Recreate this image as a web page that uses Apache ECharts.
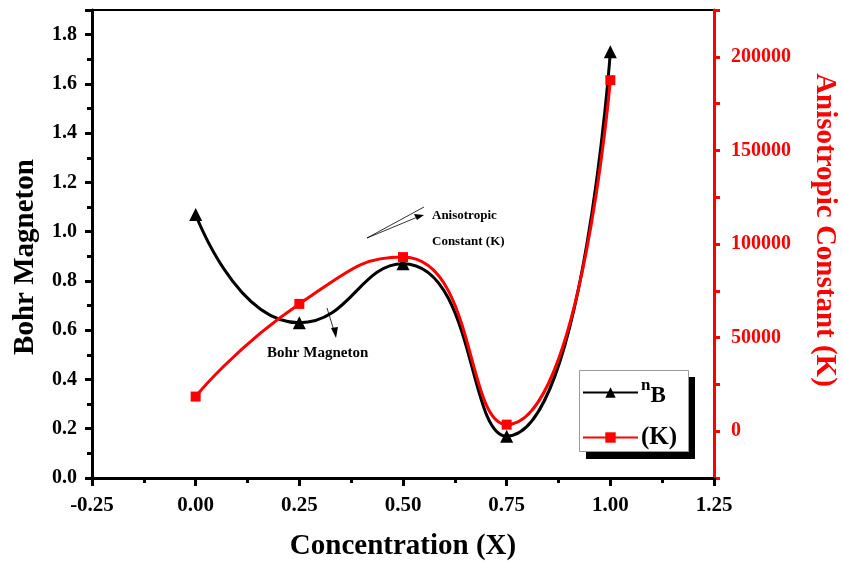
<!DOCTYPE html>
<html>
<head>
<meta charset="utf-8">
<script src="https://cdn.jsdelivr.net/npm/echarts@6/dist/echarts.min.js"></script>
<style>
  html, body { margin: 0; padding: 0; background: #fff; }
  #chart { width: 843px; height: 568px; }
</style>
</head>
<body>
<div id="chart"></div>
<script>
// data
const concentration = [0, 0.25, 0.5, 0.75, 1.0]
const bohrMagneton = [1.07, 0.63, 0.87, 0.17, 1.73]
const anisotropicK = [18500, 68000, 93000, 3500, 187500]

const serif = "'Liberation Serif', 'Times New Roman', serif"
const RED = '#ff0000'

const chart = echarts.init(document.getElementById('chart'))

chart.setOption({
  backgroundColor: '#fff',
  animation: false,
  grid: {
    left: 92, right: 129, top: 10, bottom: 90,
    outerBoundsMode: 'none',
    show: true, borderColor: '#000', borderWidth: 2
  },
  legend: {
    orient: 'vertical',
    left: 580, top: 377,
    padding: [0, 0, 0, 2],
    itemWidth: 55, itemHeight: 13, itemGap: 17,
    data: ['nB', '(K)'],
    formatter: (name) => name === 'nB' ? '{n|n}{s|B}' : '{k|(K)}',
    textStyle: {
      fontFamily: serif, fontWeight: 'bold', color: '#000', padding: [0, 0, 0, -2],
      rich: {
        n: { fontFamily: serif, fontWeight: 'bold', fontSize: 17, color: '#000', verticalAlign: 'bottom', padding: [0, 0, 14, 0] },
        s: { fontFamily: serif, fontWeight: 'bold', fontSize: 23, color: '#000', verticalAlign: 'bottom' },
        k: { fontFamily: serif, fontWeight: 'bold', fontSize: 25, color: '#000' }
      }
    }
  },
  xAxis: {
    type: 'value',
    min: -0.25, max: 1.25, interval: 0.25,
    name: 'Concentration (X)',
    nameLocation: 'middle', nameGap: 54,
    nameTextStyle: { fontFamily: serif, fontWeight: 'bold', fontSize: 29, color: '#000' },
    axisLine: { onZero: false, lineStyle: { color: '#000', width: 3 } },
    axisTick: { inside: false, length: 8, lineStyle: { color: '#000', width: 3 } },
    minorTick: { show: true, splitNumber: 2, length: 5, lineStyle: { color: '#000', width: 3 } },
    splitLine: { show: false },
    axisLabel: {
      margin: 17, fontFamily: serif, fontWeight: 'bold', fontSize: 21, color: '#000',
      formatter: (v) => v.toFixed(2)
    }
  },
  yAxis: [{
    type: 'value',
    position: 'left',
    min: 0, max: 1.9, interval: 0.2,
    name: 'Bohr Magneton',
    nameLocation: 'middle', nameGap: 52,
    nameTextStyle: { fontFamily: serif, fontWeight: 'bold', fontSize: 29, color: '#000', padding: [0, 26, 0, 0] },
    axisLine: { show: true, onZero: false, lineStyle: { color: '#000', width: 3 } },
    axisTick: { show: true, inside: false, length: 7, lineStyle: { color: '#000', width: 3 } },
    minorTick: { show: true, splitNumber: 2, length: 5, lineStyle: { color: '#000', width: 3 } },
    splitLine: { show: false },
    axisLabel: {
      margin: 15, showMaxLabel: false,
      fontFamily: serif, fontWeight: 'bold', fontSize: 20, color: '#000',
      formatter: (v) => v.toFixed(1)
    }
  }, {
    type: 'value',
    position: 'right',
    min: -25000, max: 225000, interval: 25000,
    name: 'Anisotropic Constant (K)',
    nameLocation: 'middle', nameGap: 96, nameRotate: -90,
    nameTextStyle: { fontFamily: serif, fontWeight: 'bold', fontSize: 29, color: RED, padding: [0, 28, 0, 0] },
    axisLine: { show: true, onZero: false, lineStyle: { color: RED, width: 3 } },
    axisTick: { show: true, inside: false, length: 6, lineStyle: { color: RED, width: 3 } },
    splitLine: { show: false },
    axisLabel: {
      margin: 17, fontFamily: serif, fontWeight: 'bold', fontSize: 20, color: RED,
      formatter: (v) => (v >= 0 && v % 50000 === 0) ? String(v) : ''
    }
  }],
  series: [{
    name: 'nB',
    type: 'line',
    yAxisIndex: 0,
    smooth: 0.55,
    symbol: 'triangle', symbolSize: 13,
    lineStyle: { color: '#000', width: 3 },
    itemStyle: { color: '#000' },
    data: concentration.map((x, i) => [x, bohrMagneton[i]])
  }, {
    name: '(K)',
    type: 'line',
    yAxisIndex: 1,
    smooth: 0.55,
    symbol: 'rect', symbolSize: 10,
    lineStyle: { color: RED, width: 3 },
    itemStyle: { color: RED },
    data: concentration.map((x, i) => [x, anisotropicK[i]])
  }],
  graphic: [
    // legend frame with hard drop shadow
    { type: 'rect', z: 0, shape: { x: 586, y: 377, width: 109, height: 82 }, style: { fill: '#000' } },
    { type: 'rect', z: 0, shape: { x: 579.5, y: 370.5, width: 109, height: 81 }, style: { fill: '#fff', stroke: '#999', lineWidth: 1 } },
    // "Anisotropic Constant (K)" callout
    { type: 'line', shape: { x1: 367, y1: 238, x2: 424, y2: 207 }, style: { stroke: '#000', lineWidth: 0.8 } },
    { type: 'line', shape: { x1: 367, y1: 238, x2: 420, y2: 216 }, style: { stroke: '#000', lineWidth: 0.8 } },
    { type: 'polygon', shape: { points: [[424, 215], [414, 214], [417, 220]] }, style: { fill: '#000' } },
    { type: 'text', left: 432, top: 209, style: { text: 'Anisotropic', font: `bold 13px ${serif}`, fill: '#000' } },
    { type: 'text', left: 432, top: 235, style: { text: 'Constant (K)', font: `bold 13px ${serif}`, fill: '#000' } },
    // "Bohr Magneton" callout
    { type: 'line', shape: { x1: 327, y1: 308, x2: 335, y2: 334 }, style: { stroke: '#000', lineWidth: 0.8 } },
    { type: 'polygon', shape: { points: [[336, 338], [331, 328], [338, 327]] }, style: { fill: '#000' } },
    { type: 'text', left: 267, top: 346, style: { text: 'Bohr Magneton', font: `bold 15px ${serif}`, fill: '#000' } }
  ]
})

window.addEventListener('resize', () => chart.resize())
</script>
</body>
</html>
